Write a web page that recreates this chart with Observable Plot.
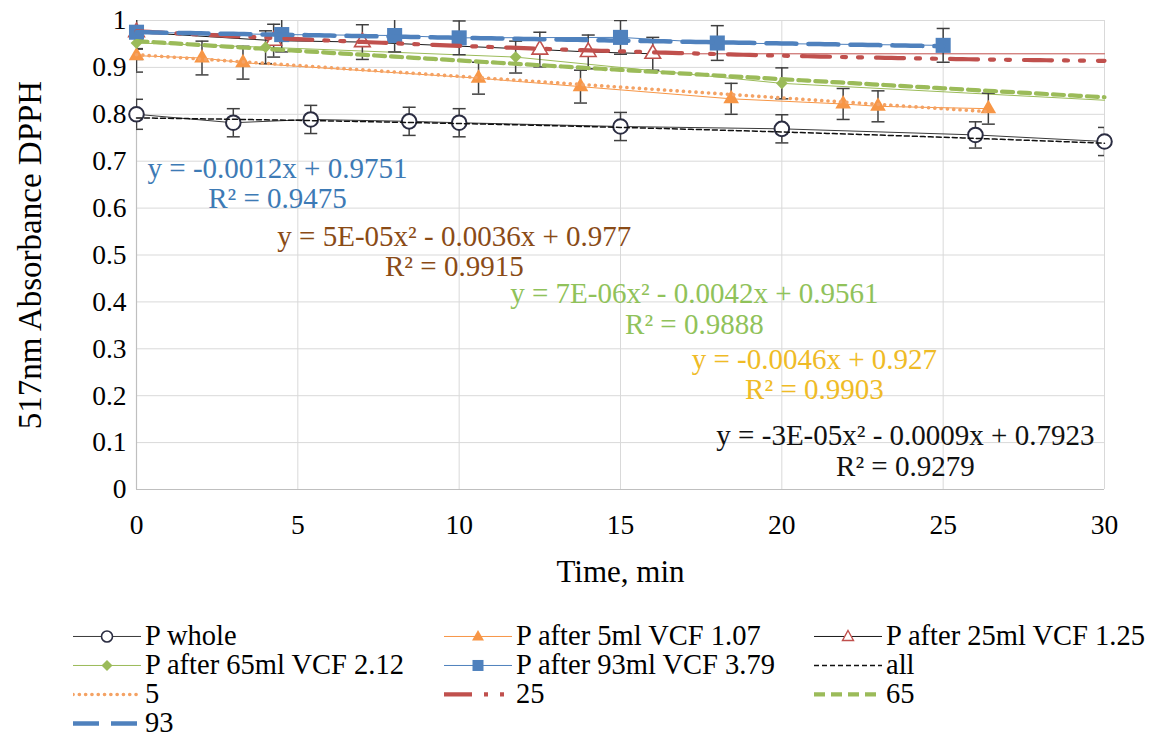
<!DOCTYPE html>
<html><head><meta charset="utf-8">
<script src="https://cdn.jsdelivr.net/npm/d3@7"></script>
<script src="https://cdn.jsdelivr.net/npm/@observablehq/plot@0.6"></script>
<style>
body{margin:0;background:#fff;font-family:"Liberation Serif","Times New Roman",serif;}
#chart{width:1162px;}
#legend{position:relative;width:1162px;height:133px;}
.item{position:absolute;display:flex;align-items:center;font-size:28.5px;color:#000;white-space:nowrap;line-height:0.95;transform:translateY(-50%);}
.item svg{margin-right:4px;flex:none}
</style></head><body><div id="chart"></div>
<script>
// ---- axis ticks ----
const xTicks = [0, 5, 10, 15, 20, 25, 30];
const yTicks = [0, 0.1, 0.2, 0.3, 0.4, 0.5, 0.6, 0.7, 0.8, 0.9, 1];

// ---- measured series (time min, absorbance, error) ----
const wholeT = [0, 3, 5.4, 8.45, 10, 15, 20, 26, 30];
const wholeV = [0.800, 0.782, 0.789, 0.785, 0.782, 0.774, 0.769, 0.756, 0.742];
const wholeE = [0.032, 0.030, 0.030, 0.030, 0.030, 0.030, 0.030, 0.028, 0.030];

const p5T = [0, 2.03, 3.3, 10.6, 13.76, 18.43, 21.9, 22.98, 26.4];
const p5V = [0.925, 0.920, 0.910, 0.877, 0.859, 0.833, 0.822, 0.817, 0.812];
const p5E = [0.035, 0.036, 0.035, 0.034, 0.035, 0.033, 0.033, 0.033, 0.033];

const p25T = [0, 4.25, 7, 12.5, 14, 16];
const p25V = [0.975, 0.957, 0.954, 0.938, 0.933, 0.929];
const p25E = [0.035, 0.035, 0.037, 0.037, 0.036, 0.035];
const p25EndT = [30];
const p25EndV = [0.929];

const p65T = [0, 4.0, 11.75, 20];
const p65V = [0.952, 0.943, 0.922, 0.866];
const p65E = [0.035, 0.035, 0.034, 0.033];
const p65EndT = [30];
const p65EndV = [0.830];

const p93T = [0, 4.5, 8, 10, 15, 18, 25];
const p93V = [0.975, 0.970, 0.968, 0.963, 0.964, 0.952, 0.947];
const p93E = [0.036, 0.037, 0.035, 0.036, 0.036, 0.037, 0.036];

// ---- trendlines: y = a2 x^2 + a1 x + a0 ----
const trendNames = ["all", "5", "25", "65", "93"];
const trendA2 = [-3e-5, 0, 5e-5, 7e-6, 0];
const trendA1 = [-0.0009, -0.0046, -0.0036, -0.0042, -0.0012];
const trendA0 = [0.7923, 0.927, 0.977, 0.9561, 0.9751];
const trendFrom = [0, 0, 0, 0, 0];
const trendTo = [30, 26.4, 30, 30, 25];

// ---- equation labels ----
const eqText = [
  "y = -0.0012x + 0.9751\nR² = 0.9475",
  "y = 5E-05x² - 0.0036x + 0.977\nR² = 0.9915",
  "y = 7E-06x² - 0.0042x + 0.9561\nR² = 0.9888",
  "y = -0.0046x + 0.927\nR² = 0.9903",
  "y = -3E-05x² - 0.0009x + 0.7923\nR² = 0.9279"
];
const eqX = [4.37, 9.85, 17.29, 21.01, 23.83];
const eqY = [0.6535, 0.5075, 0.385, 0.246, 0.083];
const eqColors = ["#3d7ab5", "#8a4b16", "#90c25a", "#efbb26", "#111111"];

// ---- build tables ----
const rows = (T, V, E) => T.map((t, i) => ({t, v: V[i], e: E ? E[i] : 0}));
const whole = rows(wholeT, wholeV, wholeE);
const p5 = rows(p5T, p5V, p5E);
const p25 = rows(p25T, p25V, p25E);
const p25Tail = rows([p25T[p25T.length - 1], ...p25EndT], [p25V[p25V.length - 1], ...p25EndV]);
const p65 = rows(p65T, p65V, p65E);
const p65Line = rows([...p65T, ...p65EndT], [...p65V, ...p65EndV]);
const p93 = rows(p93T, p93V, p93E);
const allErr = [...whole, ...p5, ...p25, ...p65, ...p93];

const trend = trendNames.map((name, k) => {
  const n = 150;
  return d3.range(n + 1).map(i => {
    const t = trendFrom[k] + (trendTo[k] - trendFrom[k]) * i / n;
    return {name, t, v: trendA2[k] * t * t + trendA1[k] * t + trendA0[k]};
  });
});
const eqs = eqText.map((text, i) => ({text, x: eqX[i], y: eqY[i], c: eqColors[i]}));

const cap = {draw(ctx, size) { const w = Math.sqrt(size / Math.PI); ctx.moveTo(-w, 0); ctx.lineTo(w, 0); }};
const ERR = "#404040";

const svg = Plot.plot({
  width: 1162, height: 605,
  marginLeft: 136, marginRight: 58, marginTop: 20, marginBottom: 116,
  style: {fontFamily: '"Liberation Serif", "Times New Roman", serif', fontSize: "27.5px", color: "#000", background: "#fff", overflow: "visible"},
  x: {domain: [0, 30]},
  y: {domain: [0, 1]},
  marks: [
    Plot.ruleX(xTicks, {stroke: "#d9d9d9", strokeWidth: 1}),
    Plot.ruleY(yTicks, {stroke: "#d9d9d9", strokeWidth: 1}),
    Plot.ruleX([0], {stroke: "#bfbfbf", strokeWidth: 1.2}),
    Plot.ruleY([0], {stroke: "#bfbfbf", strokeWidth: 1.2}),
    Plot.axisX(xTicks, {tickSize: 0, tickPadding: 25, label: null, fill: "#000"}),
    Plot.axisY(yTicks, {tickSize: 0, tickPadding: 10, label: null, fill: "#000", tickFormat: d => String(+d.toFixed(1))}),
    Plot.text(["517nm Absorbance DPPH"], {frameAnchor: "left", textAnchor: "middle", lineAnchor: "middle", dx: -106, rotate: -90, fontSize: 33, fill: "#000"}),
    Plot.text(["Time, min"], {frameAnchor: "bottom", dy: 83, fontSize: 31, fill: "#000", lineAnchor: "middle"}),

    // series lines
    Plot.line(whole, {x: "t", y: "v", stroke: "#3a3a3a", strokeWidth: 1}),
    Plot.line(p5, {x: "t", y: "v", stroke: "#f79646", strokeWidth: 1}),
    Plot.line(p25, {x: "t", y: "v", stroke: "#1a1a1a", strokeWidth: 1}),
    Plot.line(p25Tail, {x: "t", y: "v", stroke: "#c0504d", strokeWidth: 1}),
    Plot.line(p65Line, {x: "t", y: "v", stroke: "#9bbb59", strokeWidth: 1}),
    Plot.line(p93, {x: "t", y: "v", stroke: "#4f81bd", strokeWidth: 1}),

    // error bars
    Plot.ruleX(allErr, {x: "t", y1: d => d.v - d.e, y2: d => d.v + d.e, stroke: ERR, strokeWidth: 1.5, clip: true}),
    Plot.dot(allErr, {x: "t", y: d => d.v + d.e, symbol: cap, r: 6.5, stroke: ERR, strokeWidth: 1.5, fill: "none", clip: true}),
    Plot.dot(allErr, {x: "t", y: d => d.v - d.e, symbol: cap, r: 6.5, stroke: ERR, strokeWidth: 1.5, fill: "none", clip: true}),

    // markers
    Plot.dot(whole, {x: "t", y: "v", r: 7.3, fill: "white", stroke: "#2b2d42", strokeWidth: 2}),
    Plot.dot(p5, {x: "t", y: "v", symbol: "triangle", r: 5.8, fill: "#f79646", stroke: "none"}),
    Plot.dot(p25, {x: "t", y: "v", symbol: "triangle", r: 5.8, fill: "white", stroke: "#c0504d", strokeWidth: 1.6}),
    Plot.dot(p65, {x: "t", y: "v", symbol: "diamond2", r: 5.3, fill: "#9bbb59", stroke: "none"}),
    Plot.dot(p93, {x: "t", y: "v", symbol: "square", r: 8.5, fill: "#4f81bd", stroke: "none"}),

    // trendlines
    Plot.line(trend[0], {x: "t", y: "v", stroke: "#111", strokeWidth: 1.5, strokeDasharray: "5,3"}),
    Plot.line(trend[1], {x: "t", y: "v", stroke: "#f4a264", strokeWidth: 3.6, strokeDasharray: "0.1,6.2", strokeLinecap: "round"}),
    Plot.line(trend[2], {x: "t", y: "v", stroke: "#c0504d", strokeWidth: 4.2, strokeDasharray: "28,12,4,12,4,14"}),
    Plot.line(trend[3], {x: "t", y: "v", stroke: "#9bbb59", strokeWidth: 4.2, strokeDasharray: "11,6"}),
    Plot.line(trend[4], {x: "t", y: "v", stroke: "#4f81bd", strokeWidth: 4.5, strokeDasharray: "30,12"}),

    // equations
    Plot.text(eqs, {x: "x", y: "y", text: "text", fill: "c", fontSize: 29, lineHeight: 1.05, textAnchor: "middle", lineAnchor: "middle"})
  ]
});
document.getElementById("chart").appendChild(svg);

// ---- legend ----
const L = (stroke, w, dash, cap) => `<line x1="0" y1="11" x2="68" y2="11" stroke="${stroke}" stroke-width="${w}"${dash ? ` stroke-dasharray="${dash}"` : ""}${cap ? ` stroke-linecap="${cap}"` : ""}/>`;
const M = {
  circle: `<circle cx="34" cy="11" r="5.5" fill="white" stroke="#2b2d42" stroke-width="1.6"/>`,
  tri: `<path d="M34,4.5 L40,15 L28,15Z" fill="#f79646"/>`,
  triOpen: `<path d="M34,5 L39.5,15 L28.5,15Z" fill="white" stroke="#c0504d" stroke-width="1.4"/>`,
  diamond: `<path d="M34,5.5 L39.5,11 L34,16.5 L28.5,11Z" fill="#9bbb59"/>`,
  square: `<rect x="28.5" y="5.5" width="11" height="11" fill="#4f81bd"/>`
};
const legendItems = [
  {label: "P whole", sw: L("#3a3a3a", 1) + M.circle},
  {label: "P after 5ml VCF 1.07", sw: L("#f79646", 1) + M.tri},
  {label: "P after 25ml VCF 1.25", sw: L("#1a1a1a", 1) + M.triOpen},
  {label: "P after 65ml VCF 2.12", sw: L("#9bbb59", 1) + M.diamond},
  {label: "P after 93ml VCF 3.79", sw: L("#4f81bd", 1) + M.square},
  {label: "all", sw: L("#111", 1.5, "5,3")},
  {label: "5", sw: L("#f4a264", 3.6, "0.1,6.2", "round")},
  {label: "25", sw: L("#c0504d", 4.2, "28,12,4,12,4,14")},
  {label: "65", sw: L("#9bbb59", 4.2, "11,6")},
  {label: "93", sw: L("#4f81bd", 4.5, "26,12")}
];
const colX = [73, 444, 814];
const rowY = [31, 60, 89, 118];
const leg = document.createElement("div");
leg.id = "legend";
legendItems.forEach((it, i) => {
  const d = document.createElement("div");
  d.className = "item";
  d.style.left = colX[i % 3] + "px";
  d.style.top = rowY[Math.floor(i / 3)] + "px";
  d.innerHTML = `<svg width="68" height="22" viewBox="0 0 68 22">${it.sw}</svg><span>${it.label}</span>`;
  leg.appendChild(d);
});
document.getElementById("chart").appendChild(leg);
</script>
</body></html>
